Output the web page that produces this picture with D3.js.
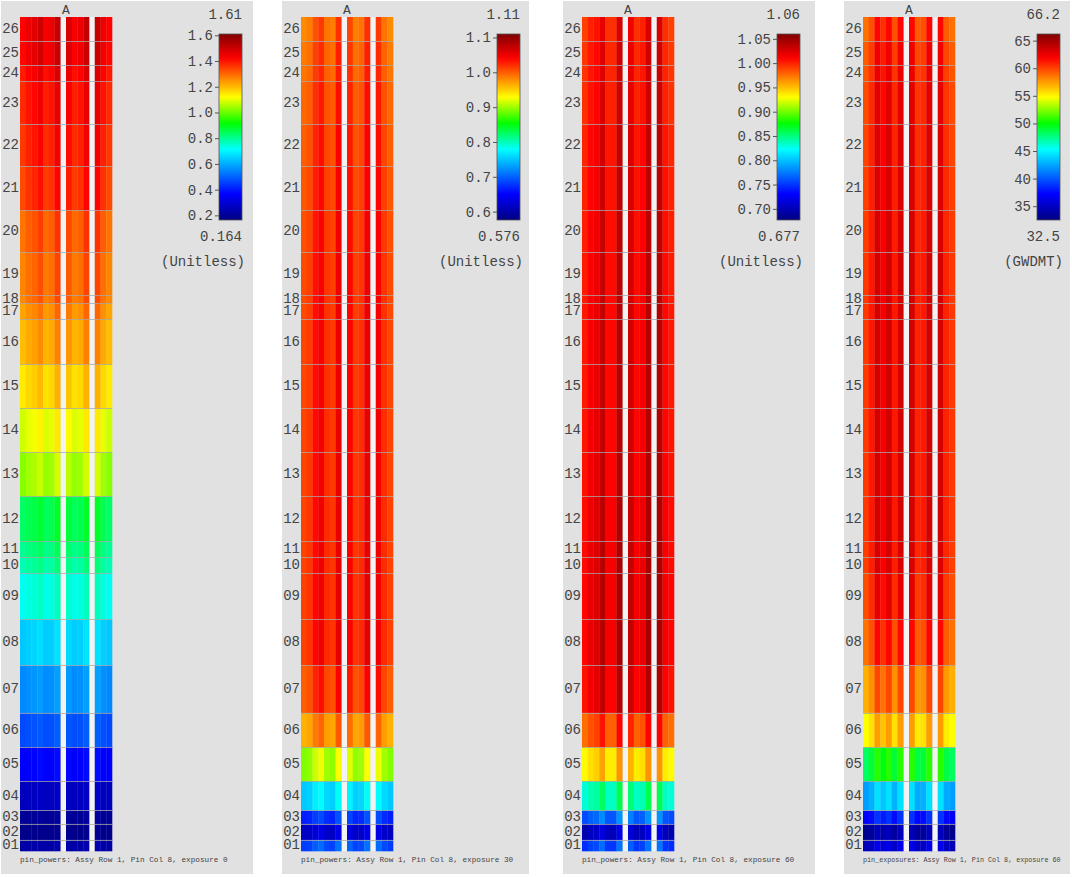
<!DOCTYPE html>
<html>
<head>
<meta charset="utf-8">
<script src="https://cdn.jsdelivr.net/npm/d3@7"></script>
<style>
body { margin: 0; background: #fff; }
svg text { font-family: "Liberation Mono", "DejaVu Sans Mono", monospace; fill: #444; }
</style>
</head>
<body>
<script>
// axial levels and mesh edges (cm from bottom)
var levels = ["01","02","03","04","05","06","07","08","09","10","11","12","13",
              "14","15","16","17","18","19","20","21","22","23","24","25","26"];
var levelEdges = [0, 5.16, 12.40, 18.42, 31.67, 47.06, 62.62, 84.02, 104.85, 125.80,
                  133.04, 140.28, 160.50, 180.41, 200.19, 220.23, 240.46, 247.70, 251.46,
                  270.91, 289.92, 309.83, 328.83, 348.29, 355.39, 366.25, 377.25];

// pin slots along the row (7 and 12 are the empty guide tube slots)
var pinSlots = [0,1,2,3,4,5,6,8,9,10,11,13,14,15];
var gapSlots = [7,12];

// axial values per level (01 -> 26)
var pow0  = [0.228, 0.183, 0.202, 0.266, 0.366, 0.475, 0.563, 0.650, 0.738, 0.789, 0.815, 0.852, 1.043,
             1.100, 1.165, 1.220, 1.250, 1.285, 1.290, 1.310, 1.364, 1.384, 1.400, 1.420, 1.444, 1.450];
var pow30 = [0.691, 0.623, 0.675, 0.763, 0.905, 0.977, 1.015, 1.028, 1.028, 1.027, 1.027, 1.027, 1.026,
             1.026, 1.025, 1.025, 1.024, 1.024, 1.023, 1.021, 1.018, 1.015, 1.010, 1.004, 1.002, 0.995];
var pow60 = [0.754, 0.704, 0.765, 0.839, 0.940, 0.985, 1.015, 1.019, 1.019, 1.018, 1.018, 1.017, 1.015,
             1.014, 1.013, 1.013, 1.013, 1.012, 1.012, 1.011, 1.010, 1.009, 1.005, 1.004, 1.003, 1.000];
var exp60 = [35.5, 33.9, 37.9, 43.3, 49.5, 56.1, 58.4, 60.2, 61.2, 61.6, 61.7, 61.8, 61.8,
             61.8, 61.8, 61.8, 61.8, 61.8, 61.8, 61.7, 61.6, 61.5, 61.3, 61.0, 60.8, 60.2];

// relative pin factors across the row
var pins0  = [0.98, 1.00, 1.01, 1.03, 0.99, 1.00, 1.04, 1.02, 0.99, 1.00, 1.04, 1.04, 1.00, 0.98];
var pins30 = [0.985, 0.99, 1.01, 1.02, 0.995, 0.99, 1.025, 1.015, 0.99, 0.995, 1.025, 1.02, 0.995, 0.985];
var pins60 = [0.99, 1.00, 1.005, 1.02, 0.995, 0.995, 1.025, 1.015, 0.995, 1.00, 1.025, 1.025, 0.995, 0.99];
var pinsX  = [0.975, 0.99, 1.025, 1.005, 1.025, 0.99, 1.025, 1.025, 0.985, 0.99, 1.025, 1.025, 0.985, 0.975];

// colour bar ranges and tick labels
var ranges   = [[0.164, 1.61], [0.576, 1.11], [0.677, 1.06], [32.5, 66.2]];
var maxLabel = ["1.61", "1.11", "1.06", "66.2"];
var minLabel = ["0.164", "0.576", "0.677", "32.5"];
var ticks0  = ["0.2","0.4","0.6","0.8","1.0","1.2","1.4","1.6"];
var ticks30 = ["0.6","0.7","0.8","0.9","1.0","1.1"];
var ticks60 = ["0.70","0.75","0.80","0.85","0.90","0.95","1.00","1.05"];
var ticksX  = ["35","40","45","50","55","60","65"];
var units    = ["(Unitless)", "(Unitless)", "(Unitless)", "(GWDMT)"];
var captions = ["pin_powers: Assy Row 1, Pin Col 8, exposure 0",
                "pin_powers: Assy Row 1, Pin Col 8, exposure 30",
                "pin_powers: Assy Row 1, Pin Col 8, exposure 60",
                "pin_exposures: Assy Row 1, Pin Col 8, exposure 60"];

var panels = [
  {axial: pow0,  pins: pins0,  ticks: ticks0,  w: 252, cb: 218},
  {axial: pow30, pins: pins30, ticks: ticks30, w: 247, cb: 215},
  {axial: pow60, pins: pins60, ticks: ticks60, w: 252, cb: 214},
  {axial: exp60, pins: pinsX,  ticks: ticksX,  w: 226, cb: 193}
];

// layout
var W = 1072, H = 877,
    heatLeft = 19, heatRight = 111, heatTop = 17, heatBottom = 851,
    cbTop = 34, cbBottom = 220, cbWidth = 23;

// jet-like map used by the plots
var cmap = d3.scaleLinear()
    .domain([0, 0.14, 0.38, 0.52, 0.66, 0.87, 1])
    .range(["#000080", "#0000ff", "#00ffff", "#00ff00", "#ffff00", "#ff0000", "#800000"])
    .clamp(true);

var x = d3.scaleBand()
    .domain(d3.range(16))
    .range([heatLeft, heatRight]);

var y = d3.scaleLinear()
    .domain([levelEdges[0], levelEdges[levelEdges.length - 1]])
    .range([heatBottom, heatTop]);

var svg = d3.select("body").append("svg")
    .attr("width", W)
    .attr("height", H);

var defs = svg.append("defs");

panels.forEach(function(p, k) {
  var g = svg.append("g")
      .attr("transform", "translate(" + (1 + 281 * k) + ",0)");

  var norm = d3.scaleLinear().domain(ranges[k]).range([0, 1]);

  g.append("rect")
      .attr("x", 0).attr("y", 1)
      .attr("width", p.w).attr("height", 873)
      .attr("fill", "#e1e1e1");

  // guide tube gaps
  g.selectAll(".gap")
      .data(gapSlots)
    .enter().append("rect")
      .attr("x", function(d) { return x(d) + 0.5; })
      .attr("y", heatTop)
      .attr("width", x.bandwidth() - 0.5)
      .attr("height", heatBottom - heatTop)
      .attr("fill", "#f3f3f3");

  // cells
  var cells = [];
  p.axial.forEach(function(a, i) {
    p.pins.forEach(function(f, j) {
      cells.push({lev: i, slot: pinSlots[j], v: a * f});
    });
  });

  g.selectAll(".cell")
      .data(cells)
    .enter().append("rect")
      .attr("class", "cell")
      .attr("x", function(d) { return x(d.slot); })
      .attr("y", function(d) { return y(levelEdges[d.lev + 1]); })
      .attr("width", x.bandwidth() + 0.3)
      .attr("height", function(d) { return y(levelEdges[d.lev]) - y(levelEdges[d.lev + 1]) + 0.3; })
      .attr("fill", function(d) { return cmap(norm(d.v)); });

  // level boundaries
  g.selectAll(".lvl")
      .data(levelEdges.slice(1, -1))
    .enter().append("line")
      .attr("x1", heatLeft).attr("x2", heatRight)
      .attr("y1", function(d) { return Math.round(y(d)) + 0.5; })
      .attr("y2", function(d) { return Math.round(y(d)) + 0.5; })
      .attr("stroke", "#a8a8a8")
      .attr("stroke-opacity", 0.75);

  // level labels
  g.selectAll(".lab")
      .data(levels)
    .enter().append("text")
      .attr("x", heatLeft - 1)
      .attr("y", function(d, i) { return (y(levelEdges[i]) + y(levelEdges[i + 1])) / 2; })
      .attr("text-anchor", "end")
      .attr("dominant-baseline", "central")
      .style("font-size", "14px")
      .text(function(d) { return d; });

  g.append("text")
      .attr("x", (heatLeft + heatRight) / 2)
      .attr("y", 10)
      .attr("text-anchor", "middle")
      .attr("dominant-baseline", "central")
      .style("font-size", "13px")
      .text("A");

  // colour bar
  var grad = defs.append("linearGradient")
      .attr("id", "cb" + k)
      .attr("x1", 0).attr("y1", 1).attr("x2", 0).attr("y2", 0);
  d3.range(0, 1.0001, 0.02).forEach(function(t) {
    grad.append("stop").attr("offset", t).attr("stop-color", cmap(t));
  });

  g.append("rect")
      .attr("x", p.cb).attr("y", cbTop)
      .attr("width", cbWidth).attr("height", cbBottom - cbTop)
      .attr("fill", "url(#cb" + k + ")")
      .attr("stroke", "#555")
      .attr("stroke-width", 0.8);

  var cy = d3.scaleLinear().domain(ranges[k]).range([cbBottom, cbTop]);

  var axis = g.append("g")
      .attr("transform", "translate(" + p.cb + ",0)")
      .call(d3.axisLeft(cy)
        .tickValues(p.ticks.map(Number))
        .tickFormat(function(d, i) { return p.ticks[i]; })
        .tickSize(4)
        .tickPadding(2));
  axis.select(".domain").remove();
  axis.selectAll(".tick line").attr("stroke", "#555");
  axis.selectAll(".tick text")
      .style("font-size", "14px")
      .attr("fill", "#444");

  g.append("text")
      .attr("x", p.cb + cbWidth)
      .attr("y", 15)
      .attr("text-anchor", "end")
      .attr("dominant-baseline", "central")
      .style("font-size", "14px")
      .text(maxLabel[k]);

  g.append("text")
      .attr("x", p.cb + cbWidth)
      .attr("y", 237)
      .attr("text-anchor", "end")
      .attr("dominant-baseline", "central")
      .style("font-size", "14px")
      .text(minLabel[k]);

  g.append("text")
      .attr("x", p.cb + cbWidth + 3)
      .attr("y", 262)
      .attr("text-anchor", "end")
      .attr("dominant-baseline", "central")
      .style("font-size", "14px")
      .text(units[k]);

  // caption
  var fs = Math.min(7.7, (p.w - 28) / (captions[k].length * 0.6));
  g.append("text")
      .attr("x", heatLeft)
      .attr("y", 860)
      .attr("dominant-baseline", "central")
      .style("font-size", fs + "px")
      .attr("fill", "#555")
      .text(captions[k]);
});
</script>
</body>
</html>
